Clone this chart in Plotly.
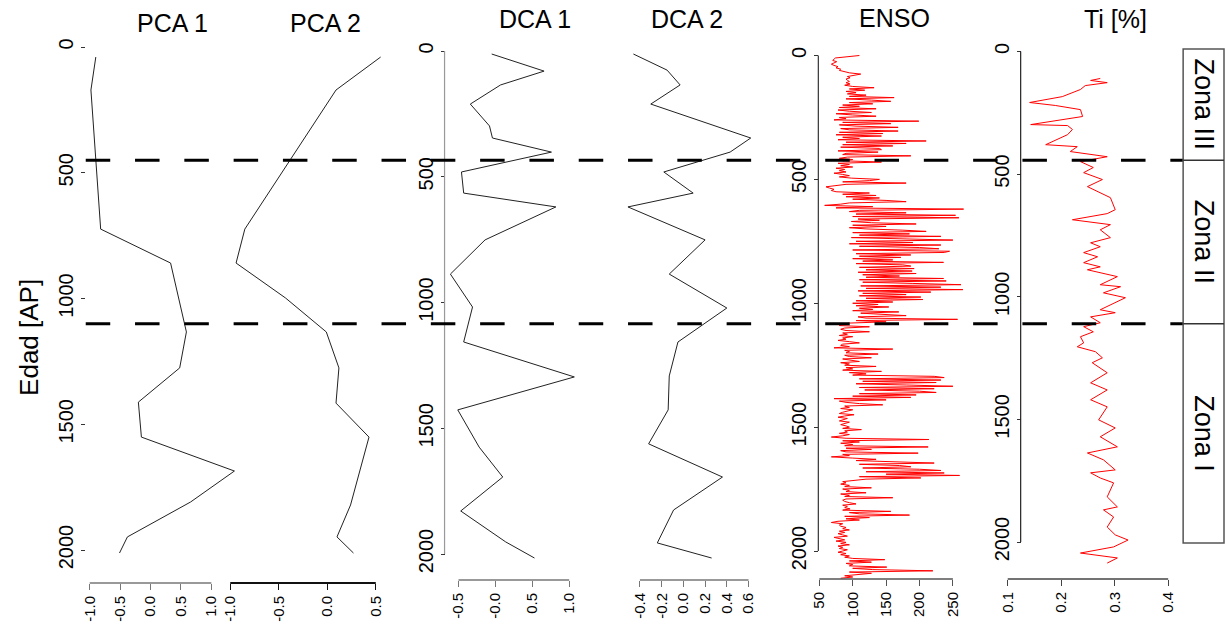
import plotly.graph_objects as go

W, H = 1225, 626
FONT = "Liberation Sans, Arial, sans-serif"

# ---------------- data ----------------
pca1_age = [40, 171, 724, 859, 1133, 1276, 1412, 1551, 1686, 1809, 1948, 2012]
pca1 = [-0.90, -0.98, -0.82, 0.33, 0.59, 0.48, -0.20, -0.15, 1.38, 0.66, -0.38, -0.51]

pca2_age = [40, 171, 724, 859, 998, 1133, 1276, 1416, 1551, 1821, 1948, 2012]
pca2 = [0.55, 0.09, -0.85, -0.94, -0.43, -0.01, 0.12, 0.09, 0.43, 0.24, 0.10, 0.27]

dca1_age = [12, 80, 135, 211, 298, 346, 402, 481, 565, 620, 751, 887, 1018, 1157,
            1296, 1427, 1575, 1694, 1829, 1952, 2016]
dca1 = [-0.05, 0.66, 0.07, -0.34, -0.08, -0.04, 0.76, -0.46, -0.43, 0.82, -0.14,
        -0.61, -0.31, -0.43, 1.07, -0.51, -0.22, 0.10, -0.47, 0.14, 0.53]

dca2_age = [12, 76, 135, 211, 346, 402, 481, 565, 620, 751, 887, 1022, 1157, 1292,
            1427, 1562, 1694, 1825, 1956, 2016]
dca2 = [-0.46, -0.15, -0.03, -0.30, 0.62, 0.43, -0.18, 0.09, -0.51, 0.20, -0.13,
        0.40, -0.05, -0.13, -0.14, -0.32, 0.36, -0.09, -0.24, 0.26]

# ENSO record, one value every 5 years from 0 AP (rows = centuries)
enso = [
    110, 85, 74, 72, 70, 76, 73, 68, 72, 78, 75, 82, 80, 88, 95, 112, 100, 92, 96, 90,
    92, 95, 90, 96, 88, 100, 132, 95, 118, 90, 105, 92, 120, 95, 162, 90, 128, 157, 95, 130,
    85, 110, 80, 135, 78, 95, 128, 75, 100, 135, 80, 90, 72, 199, 85, 157, 80, 105, 168, 82,
    95, 168, 80, 145, 75, 143, 85, 110, 78, 210, 90, 180, 85, 160, 82, 140, 143, 78, 138, 90,
    85, 187, 92, 80, 100, 85, 143, 78, 95, 82, 100, 75, 88, 80, 90, 72, 85, 95, 80, 98,
    140, 125, 85, 180, 90, 78, 60, 65, 72, 68, 75, 125, 85, 135, 90, 140, 100, 150, 180, 95,
    82, 58, 130, 75, 266, 110, 95, 180, 105, 254, 100, 259, 108, 140, 98, 128, 195, 100, 150, 95,
    120, 175, 210, 100, 185, 110, 232, 98, 170, 250, 105, 190, 95, 232, 110, 200, 229, 100, 245, 237,
    105, 187, 110, 172, 100, 160, 115, 236, 105, 175, 187, 110, 192, 120, 189, 108, 195, 115, 170, 120,
    236, 110, 240, 115, 190, 262, 112, 232, 120, 265, 108, 217, 115, 180, 110, 202, 120, 205, 105, 160,
    100, 138, 105, 154, 110, 130, 100, 169, 112, 140, 180, 108, 120, 257, 105, 150, 95, 85, 80, 125,
    88, 82, 90, 125, 85, 92, 80, 100, 85, 90, 78, 95, 110, 85, 82, 95, 72, 160, 88, 95,
    90, 138, 88, 95, 128, 85, 100, 110, 82, 95, 88, 135, 90, 100, 85, 143, 95, 120, 100, 222,
    237, 110, 232, 115, 225, 105, 180, 250, 110, 222, 118, 200, 225, 110, 195, 100, 187, 72, 150, 80,
    90, 110, 145, 88, 95, 82, 100, 90, 85, 80, 102, 88, 78, 92, 85, 80, 95, 88, 82, 90,
    95, 85, 113, 88, 92, 80, 95, 85, 68, 90, 214, 85, 110, 82, 100, 88, 213, 90, 128, 82,
    90, 198, 85, 95, 68, 100, 135, 105, 180, 222, 110, 170, 187, 115, 200, 232, 120, 237, 150, 260,
    110, 202, 120, 95, 85, 90, 82, 95, 88, 128, 85, 95, 90, 120, 82, 95, 88, 160, 90, 85,
    88, 95, 105, 85, 92, 88, 96, 85, 157, 95, 110, 185, 88, 125, 90, 110, 78, 68, 85, 80,
    82, 90, 85, 95, 80, 88, 78, 85, 92, 72, 80, 88, 75, 90, 82, 95, 78, 85, 80, 92,
    85, 78, 90, 82, 95, 88, 100, 148, 95, 128, 90, 100, 95, 151, 100, 130, 220, 95, 128, 110,
    88, 100, 82,
]
enso_step = 5
enso_age = [enso_step * i for i in range(len(enso))]

ti_age = [110, 118, 127, 139, 155, 184, 208, 220, 237, 265, 298, 302, 318, 339, 380, 388,
          408, 429, 449, 473, 494, 522, 551, 596, 645, 661, 686, 706, 727, 759, 780, 796,
          820, 837, 861, 878, 890, 918, 951, 959, 984, 1004, 1053, 1065, 1082, 1106, 1122,
          1143, 1163, 1188, 1204, 1224, 1249, 1269, 1310, 1351, 1380, 1420, 1449, 1502,
          1535, 1571, 1612, 1637, 1665, 1706, 1718, 1739, 1759, 1816, 1857, 1869, 1898,
          1939, 1971, 1992, 2020, 2045, 2065, 2086]
ti = [0.273, 0.255, 0.286, 0.245, 0.236, 0.202, 0.141, 0.189, 0.236, 0.240, 0.143, 0.212,
      0.221, 0.212, 0.171, 0.230, 0.217, 0.286, 0.236, 0.260, 0.242, 0.277, 0.249, 0.292,
      0.301, 0.286, 0.221, 0.292, 0.273, 0.292, 0.255, 0.273, 0.242, 0.268, 0.242, 0.273,
      0.249, 0.305, 0.273, 0.311, 0.279, 0.320, 0.273, 0.301, 0.255, 0.273, 0.242, 0.260,
      0.236, 0.242, 0.230, 0.264, 0.277, 0.258, 0.286, 0.255, 0.286, 0.255, 0.286, 0.270,
      0.301, 0.273, 0.305, 0.249, 0.279, 0.301, 0.255, 0.273, 0.298, 0.286, 0.305, 0.279,
      0.298, 0.286, 0.301, 0.325, 0.298, 0.236, 0.305, 0.286]

zone_bounds = [450, 1100]
zone_labels = ["Zona III", "Zona II", "Zona I"]
titles = ["PCA 1", "PCA 2", "DCA 1", "DCA 2", "ENSO", "Ti [%]"]
age_ticks = [0, 500, 1000, 1500, 2000]

x_ticks = {
    "pca1": ([-1.0, -0.5, 0.0, 0.5, 1.0], ["-1.0", "-0.5", "0.0", "0.5", "1.0"]),
    "pca2": ([-1.0, -0.5, 0.0, 0.5], ["-1.0", "-0.5", "0.0", "0.5"]),
    "dca1": ([-0.5, 0.0, 0.5, 1.0], ["-0.5", "-0.0", "0.5", "1.0"]),
    "dca2": ([-0.4, -0.2, 0.0, 0.2, 0.4, 0.6], ["-0.4", "-0.2", "0.0", "0.2", "0.4", "0.6"]),
    "enso": ([50, 100, 150, 200, 250], ["50", "100", "150", "200", "250"]),
    "ti": ([0.1, 0.2, 0.3, 0.4], ["0.1", "0.2", "0.3", "0.4"]),
}

# ---------------- layout geometry (pixels) ----------------
# x: (first tick px, last tick px, domain left px, domain right px, axis y px, axis color)
xgeo = {
    "pca1": (86, 208, 76, 238, 583, "#777777"),
    "pca2": (227, 373, 222, 386, 583, "#111111"),
    "dca1": (456, 567, 440, 582, 580, "#777777"),
    "dca2": (638, 747, 618, 762, 580, "#777777"),
    "enso": (818, 952, 812, 976, 579, "#555555"),
    "ti": (1007, 1168, 1000, 1180, 579, "#444444"),
}
# y: (px of age 0, px of age 2000)
ygeo = {
    "pca1": (47, 550), "pca2": (47, 550),
    "dca1": (51, 554), "dca2": (51, 554),
    "enso": (55.5, 551), "ti": (51.5, 542),
}
YD = (30, 600)
yaxis_pos = {"pca1": (81, None), "dca1": (442, "#999999"),
             "enso": (817, "#333333"), "ti": (1020, "#222222")}

keys = ["pca1", "pca2", "dca1", "dca2", "enso", "ti"]
series = {
    "pca1": (pca1, pca1_age, "#222222"),
    "pca2": (pca2, pca2_age, "#222222"),
    "dca1": (dca1, dca1_age, "#222222"),
    "dca2": (dca2, dca2_age, "#222222"),
    "enso": (enso, enso_age, "#ff0000"),
    "ti": (ti, ti_age, "#ff0000"),
}

fig = go.Figure()
layout = dict(width=W, height=H, margin=dict(l=0, r=0, t=0, b=0), autosize=False,
              paper_bgcolor="white", plot_bgcolor="rgba(0,0,0,0)", showlegend=False,
              font=dict(family=FONT, color="black"))
shapes = []
annotations = []

for i, k in enumerate(keys):
    n = "" if i == 0 else str(i + 1)
    tv, tt = x_ticks[k]
    p0, p1, d0, d1, ypx, col = xgeo[k]
    t0, t1 = tv[0], tv[-1]
    s = (p1 - p0) / (t1 - t0)
    xr = [t0 + (d0 - p0) / s, t0 + (d1 - p0) / s]
    layout["xaxis" + n] = dict(
        domain=[d0 / W, d1 / W], range=xr, anchor="free", position=1 - ypx / H,
        showgrid=False, zeroline=False, showline=False, ticks="outside", ticklen=6,
        tickwidth=1, tickcolor=col, tickvals=tv, ticktext=tt, tickangle=-90,
        tickfont=dict(size=15, family=FONT, color="black"), fixedrange=True)
    shapes.append(dict(type="line", xref="x" + n, yref="paper", x0=t0, x1=t1,
                       y0=1 - ypx / H, y1=1 - ypx / H,
                       line=dict(color=col, width=1.3 if k != "pca2" else 1.8)))

    c0, c2000 = ygeo[k]
    d = (c2000 - c0) / 2000
    yr = [(YD[1] - c0) / d, (YD[0] - c0) / d]
    ycfg = dict(domain=[1 - YD[1] / H, 1 - YD[0] / H], range=yr, showgrid=False,
                zeroline=False, showline=False, fixedrange=True)
    if k in yaxis_pos:
        xp, lc = yaxis_pos[k]
        ycfg.update(anchor="free", position=xp / W, side="left", ticks="outside",
                    ticklen=4, tickwidth=1, tickcolor="#333333", tickvals=age_ticks,
                    ticktext=[str(a) for a in age_ticks], tickangle=-90,
                    tickfont=dict(size=20, family=FONT, color="black"))
        if lc:
            shapes.append(dict(type="line", xref="paper", yref="y" + n,
                               x0=xp / W, x1=xp / W, y0=age_ticks[0], y1=age_ticks[-1],
                               line=dict(color=lc, width=1.2)))
    else:
        ycfg.update(visible=False)
    layout["yaxis" + n] = ycfg

    vals, ages, lcol = series[k]
    fig.add_trace(go.Scatter(x=vals, y=ages, mode="lines", xaxis="x" + n, yaxis="y" + n,
                             line=dict(color=lcol, width=1), hoverinfo="skip"))

# titles
title_pos = [(169, 23), (323, 23), (533, 19), (685, 19), (893, 18), (1115, 19)]
for t, (tx, ty) in zip(titles, title_pos):
    annotations.append(dict(text=t, x=tx / W, y=1 - ty / H, xref="paper", yref="paper",
                            xanchor="center", yanchor="middle", showarrow=False,
                            font=dict(size=25, family=FONT, color="black")))

annotations.append(dict(text="Edad [AP]", x=25 / W, y=1 - 337 / H, xref="paper",
                        yref="paper", xanchor="center", yanchor="middle", showarrow=False,
                        textangle=-90, font=dict(size=26, family=FONT, color="black")))

# zone dashed lines (in PCA 1 age scale)
for zb in zone_bounds:
    shapes.append(dict(type="line", xref="paper", yref="y", x0=82 / W, x1=1183 / W,
                       y0=zb, y1=zb, line=dict(color="black", width=3, dash="24.5px,24.8px")))

# zone box
bx0, bx1, by0, by1 = 1183, 1224, 49, 543
shapes.append(dict(type="rect", xref="paper", yref="paper", x0=bx0 / W, x1=bx1 / W,
                   y0=1 - by1 / H, y1=1 - by0 / H, line=dict(color="#555555", width=1.5)))
pc0, pc2000 = ygeo["pca1"]
pdd = (pc2000 - pc0) / 2000
edges = [by0] + [pc0 + zb * pdd for zb in zone_bounds] + [by1]
for e in edges[1:-1]:
    shapes.append(dict(type="line", xref="paper", yref="paper", x0=bx0 / W, x1=bx1 / W,
                       y0=1 - e / H, y1=1 - e / H, line=dict(color="#333333", width=1.5)))
for lab, a, b in zip(zone_labels, edges[:-1], edges[1:]):
    annotations.append(dict(text=lab, x=1204 / W, y=1 - (a + b) / 2 / H, xref="paper",
                            yref="paper", xanchor="center", yanchor="middle",
                            showarrow=False, textangle=90,
                            font=dict(size=27, family=FONT, color="black")))

layout["shapes"] = shapes
layout["annotations"] = annotations
fig.update_layout(**layout)
fig.write_html("out.html")
